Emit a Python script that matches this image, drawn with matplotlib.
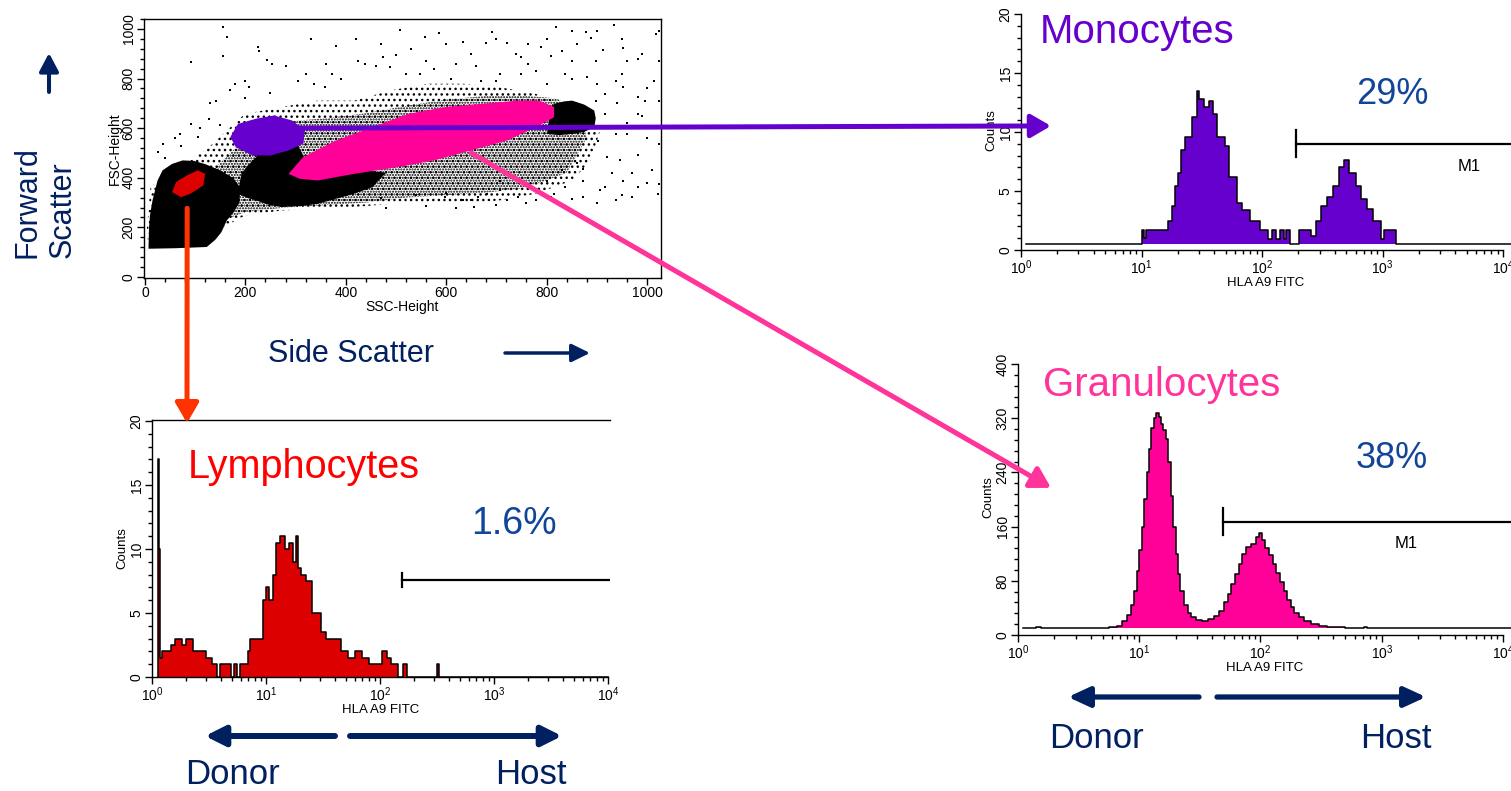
import numpy as np
import matplotlib
matplotlib.use("Agg")
from matplotlib import pyplot as plt
from matplotlib.patches import Polygon, FancyArrowPatch, ConnectionPatch
from matplotlib.ticker import MultipleLocator, LogLocator, NullFormatter

plt.rcParams['font.family'] = ['Liberation Sans', 'DejaVu Sans']
plt.rcParams['hatch.linewidth'] = 1.0
plt.rcParams['axes.linewidth'] = 1.0

# Colours
NAVY = '#002060'
PCT_BLUE = '#10459A'
LYMPH_RED = '#DD0000'
MONO_PURPLE = '#6600CC'
GRAN_PINK = '#FF0099'
GRAN_TEXT = '#FF3399'
ORANGE = '#FF3300'

# ---------------- Scatter plot data (SSC, FSC) ----------------
# Outer, sparse part of the event cloud
band_ssc = [7, 120, 156, 199, 272, 344, 417, 489, 562, 634, 707, 779, 851, 888, 909,
            851, 779, 707, 634, 562, 489, 417, 344, 272, 236, 199, 163, 127, 91, 40, 11, 4]
band_fsc = [114, 121, 201, 248, 268, 275, 282, 295, 302, 295, 309, 336, 389, 470, 604,
            684, 738, 765, 779, 779, 752, 711, 711, 685, 671, 658, 590, 523, 470, 416, 362, 201]
# Inner, denser part of the event cloud
inner_ssc = [120, 200, 280, 360, 440, 520, 600, 680, 760, 840, 880, 870, 820, 760, 680,
             600, 520, 440, 360, 300, 240, 180, 130]
inner_fsc = [200, 262, 280, 290, 300, 320, 330, 340, 360, 420, 560, 660, 720, 730, 730,
             715, 690, 660, 640, 630, 600, 520, 420]
# Dense black core (small cells / debris)
core_ssc = [7, 60, 123, 140, 152, 163, 178, 188, 190, 175, 150, 120, 98, 75, 54, 35, 25, 15, 10, 8]
core_fsc = [114, 116, 121, 150, 180, 228, 265, 300, 360, 400, 430, 455, 468, 470, 456, 430, 389, 309, 250, 201]
# Dense black area between monocytes and granulocytes
mid_ssc = [185, 205, 221, 245, 272, 310, 344, 380, 417, 453, 480, 400, 320, 305, 301, 280, 257, 235, 221, 205, 192]
mid_fsc = [336, 318, 309, 292, 282, 286, 295, 315, 336, 362, 420, 440, 470, 530, 577, 575, 560, 520, 483, 450, 416]
# Dense black area right of granulocytes
right_ssc = [801, 805, 815, 835, 851, 875, 895, 898, 895, 875, 851, 825]
right_fsc = [577, 640, 698, 708, 711, 695, 671, 640, 604, 585, 577, 572]
# Gated populations
mono_gate_ssc = [170, 185, 221, 257, 293, 319, 315, 286, 250, 214, 181]
mono_gate_fsc = [564, 617, 638, 651, 631, 591, 537, 510, 490, 490, 523]
gran_gate_ssc = [286, 315, 380, 453, 525, 598, 670, 743, 786, 815, 815, 779, 721, 649, 576, 504, 417, 344, 308]
gran_gate_fsc = [416, 483, 550, 604, 658, 685, 698, 711, 711, 684, 644, 604, 550, 510, 470, 443, 416, 389, 396]
lymph_gate_ssc = [54, 62, 83, 105, 120, 116, 91, 72]
lymph_gate_fsc = [342, 383, 409, 430, 416, 369, 336, 322]
# Sparse events
ssc_dots = [156, 164, 509, 558, 585, 692, 819, 935, 851, 878, 634, 679, 721, 763, 788, 830,
            888, 912, 953, 1018, 225, 228, 243, 254, 91, 156, 424, 438, 474, 500, 460, 489,
            750, 764, 808, 851, 898, 960, 982, 779, 837, 880, 938, 982, 996, 953, 917, 898,
            888, 917, 938, 982, 946, 1011, 906, 917, 873, 815, 837, 830, 873, 971, 938, 982,
            707, 743, 663, 681, 634, 598, 656, 721, 779, 808, 851, 1022, 1025, 1025, 1025,
            1025, 1025, 1014, 707, 670, 620, 576, 547, 373, 359, 337, 304, 199, 207, 170,
            141, 127, 91, 69, 36, 25, 72, 105, 149, 960, 982, 902, 920, 953, 873, 801, 764,
            707, 600, 540, 470, 930, 990, 860, 760, 650,
            330, 380, 420, 470, 530, 600, 650, 700, 740, 800, 860, 900, 950, 990, 280, 320,
            360, 390, 520, 560, 610, 660, 700, 750, 800, 850, 900, 950, 1000, 990, 960, 940,
            1000, 970, 1000, 950, 900, 700, 620, 560, 480, 60, 40, 110, 130, 200, 250, 180]
fsc_dots = [1009, 969, 996, 969, 983, 987, 1009, 1016, 991, 987, 949, 942, 942, 940, 926, 913,
            962, 915, 922, 980, 926, 909, 875, 859, 866, 889, 872, 859, 886, 893, 852, 846,
            886, 859, 889, 872, 872, 872, 879, 832, 819, 805, 792, 725, 711, 765, 738, 711,
            671, 658, 577, 490, 470, 430, 349, 362, 322, 336, 362, 430, 436, 322, 309, 362,
            349, 322, 322, 336, 309, 322, 282, 309, 309, 322, 315, 336, 376, 537, 711,
            872, 993, 792, 819, 792, 859, 839, 819, 819, 765, 779, 792, 792, 765, 752,
            711, 638, 617, 577, 537, 503, 530, 564, 611, 577, 658, 550, 483, 389, 389, 389, 362,
            389, 340, 330, 320, 420, 600, 460, 300, 310,
            960, 930, 960, 940, 920, 940, 900, 960, 900, 960, 940, 990, 960, 900, 850, 820,
            860, 800, 820, 870, 800, 850, 790, 820, 780, 800, 780, 820, 760, 650, 620, 700,
            560, 420, 380, 330, 300, 290, 280, 285, 280, 560, 480, 600, 700, 720, 740, 780]

# ---------------- Histogram data (log10 channel edges, counts) ----------------
lymph_edges = [0.05, 0.058, 0.067, 0.09, 0.17, 0.2, 0.26, 0.3, 0.36, 0.47,
               0.53, 0.57, 0.6, 0.69, 0.72, 0.75, 0.77, 0.84, 0.86, 0.9,
               0.97, 1.0, 1.03, 1.06, 1.09, 1.12, 1.17, 1.2, 1.24, 1.26,
               1.28, 1.31, 1.35, 1.4, 1.44, 1.48, 1.53, 1.6, 1.66, 1.72,
               1.78, 1.84, 1.9, 1.98, 2.02, 2.06, 2.1, 2.16, 2.2, 2.24,
               2.5, 2.52, 4.0]
lymph_counts = [17, 10, 1.5, 2, 2.5, 3, 2.5, 3, 2, 1.5,
                1, 0, 1, 0, 1, 0, 1, 2, 3, 3,
                6, 7, 6, 8, 10.5, 11, 10, 10.5, 9, 11,
                8.5, 8, 7.5, 5, 5, 3.5, 3, 3, 2, 1.5,
                2, 1.5, 1, 1, 2, 1.5, 1, 0, 1, 0,
                1, 0]

mono_edges = [0.04, 1.0, 1.02, 1.04, 1.07, 1.22, 1.25, 1.28, 1.3, 1.33,
              1.36, 1.42, 1.46, 1.48, 1.52, 1.56, 1.59, 1.63, 1.69, 1.73,
              1.79, 1.83, 1.9, 1.98, 2.05, 2.08, 2.12, 2.15, 2.18, 2.2,
              2.23, 2.31, 2.41, 2.45, 2.49, 2.54, 2.59, 2.64, 2.68, 2.72,
              2.78, 2.82, 2.87, 2.92, 2.99, 3.01, 3.05, 3.11, 4.07]
mono_counts = [0, 1.7, 1.0, 1.7, 1.7, 2.5, 3.7, 5.4, 6.5, 8.5,
               9.6, 11.3, 13.5, 12.8, 12.1, 12.6, 11.5, 9.6, 8.8, 6.2,
               4.0, 3.4, 2.5, 1.7, 0.9, 1.7, 0.9, 1.7, 0.9, 1.7,
               0, 1.7, 1.2, 2.5, 3.7, 4.5, 5.4, 7.0, 7.6, 6.5,
               5.4, 4.3, 3.5, 2.5, 0.9, 1.7, 1.7, 0]

gran_edges = [0.04, 0.15, 0.19, 0.75, 0.82, 0.86, 0.9, 0.93, 0.955, 0.98,
              1.0, 1.02, 1.04, 1.06, 1.08, 1.1, 1.12, 1.14, 1.16, 1.18,
              1.2, 1.22, 1.24, 1.26, 1.28, 1.3, 1.32, 1.34, 1.37, 1.4,
              1.43, 1.47, 1.52, 1.57, 1.62, 1.66, 1.7, 1.73, 1.76, 1.79,
              1.82, 1.85, 1.88, 1.92, 1.96, 1.99, 2.01, 2.04, 2.07, 2.1,
              2.13, 2.16, 2.19, 2.22, 2.25, 2.28, 2.32, 2.36, 2.42, 2.48,
              2.55, 2.7, 2.85, 2.88, 4.07]
gran_counts = [10, 12, 10, 12, 14, 20, 30, 45, 65, 95,
               125, 160, 200, 240, 275, 305, 320, 328, 322, 312,
               302, 290, 255, 205, 160, 120, 90, 65, 45, 33,
               26, 22, 20, 24, 28, 36, 48, 60, 75, 90,
               105, 120, 130, 135, 145, 150, 140, 128, 118, 105,
               92, 78, 65, 52, 42, 33, 26, 20, 16, 13,
               12, 10, 12, 10]

# M1 gates: (start channel log10, level, half tick height)
lymph_m1 = (2.19, 7.6, 0.55)
mono_m1 = (2.28, 9.0, 1.15)
gran_m1 = (1.69, 167, 20)

W, H = 1511, 791


def fx(x):
    return x / W


def fy(y):
    return 1 - y / H


fig = plt.figure(figsize=(W / 100, H / 100), dpi=100)
fig.patch.set_facecolor('white')

# ---------------- Scatter ----------------
ax_sc = fig.add_axes([fx(144), fy(278), 517 / W, 259 / H])
ax_sc.add_patch(Polygon(list(zip(band_ssc, band_fsc)), closed=True, facecolor='none',
                        edgecolor='black', hatch='...', lw=0, zorder=1))
ax_sc.add_patch(Polygon(list(zip(inner_ssc, inner_fsc)), closed=True, facecolor='none',
                        edgecolor='black', hatch='......', lw=0, zorder=1))
ax_sc.scatter(ssc_dots, fsc_dots, s=2.5, marker='s', color='black', lw=0, zorder=2)
for xs, ys in [(core_ssc, core_fsc), (mid_ssc, mid_fsc), (right_ssc, right_fsc)]:
    ax_sc.add_patch(Polygon(list(zip(xs, ys)), closed=True, facecolor='black', lw=0, zorder=3))
ax_sc.add_patch(Polygon(list(zip(mono_gate_ssc, mono_gate_fsc)), closed=True,
                        facecolor=MONO_PURPLE, lw=0, zorder=4))
ax_sc.add_patch(Polygon(list(zip(gran_gate_ssc, gran_gate_fsc)), closed=True,
                        facecolor=GRAN_PINK, lw=0, zorder=4))
ax_sc.add_patch(Polygon(list(zip(lymph_gate_ssc, lymph_gate_fsc)), closed=True,
                        facecolor=LYMPH_RED, lw=0, zorder=4))
ax_sc.set_xlim(-2, 1028)
ax_sc.set_ylim(-4, 1040)
ax_sc.xaxis.set_major_locator(MultipleLocator(200))
ax_sc.xaxis.set_minor_locator(MultipleLocator(40))
ax_sc.yaxis.set_major_locator(MultipleLocator(200))
ax_sc.yaxis.set_minor_locator(MultipleLocator(40))
ax_sc.tick_params(which='both', direction='out', width=1, labelsize=10, pad=1)
ax_sc.tick_params(which='major', length=5)
ax_sc.tick_params(which='minor', length=3)
for lab in ax_sc.get_yticklabels():
    lab.set_rotation(90)
    lab.set_va('center')
ax_sc.set_xlabel('SSC-Height', fontsize=10, labelpad=0)
ax_sc.set_ylabel('FSC-Height', fontsize=10, labelpad=0)


# ---------------- Histograms ----------------
def draw_hist(ax, edges, counts, color, floor):
    x = 10 ** np.asarray(edges, dtype=float)
    y = np.maximum(np.append(counts, counts[-1]), floor)
    ax.fill_between(x, floor, y, step='post', color=color, lw=0, zorder=2)
    ax.step(np.r_[x[0], x], np.r_[floor, y], where='post', color='black', lw=1.1, zorder=3)


def style_hist(ax, ymax, ymajor, yminor):
    ax.set_xscale('log')
    ax.set_xlim(1, ax.get_xlim()[1])
    ax.set_ylim(0, ymax)
    ax.xaxis.set_major_locator(LogLocator(base=10, numticks=10))
    ax.xaxis.set_minor_locator(LogLocator(base=10, subs=np.arange(2, 10), numticks=20))
    ax.xaxis.set_minor_formatter(NullFormatter())
    ax.yaxis.set_major_locator(MultipleLocator(ymajor))
    ax.yaxis.set_minor_locator(MultipleLocator(yminor))
    ax.tick_params(which='both', direction='out', width=1, labelsize=10, pad=1)
    ax.tick_params(which='major', length=5)
    ax.tick_params(which='minor', length=3)
    for lab in ax.get_yticklabels():
        lab.set_rotation(90)
        lab.set_va('center')
    ax.spines['right'].set_visible(False)
    ax.spines['bottom'].set_bounds(1, 1e4)
    ax.set_xlabel('HLA A9 FITC', fontsize=9.5, labelpad=0)
    ax.set_ylabel('Counts', fontsize=9.5, labelpad=1)
    ax.set_facecolor('none')


def draw_m1(ax, gate, label_pos=None):
    start, level, half = gate
    ax.plot([10 ** start, 1e5], [level, level], color='black', lw=1.6, zorder=4, clip_on=True)
    ax.plot([10 ** start] * 2, [level - half, level + half], color='black', lw=1.6, zorder=4)
    if label_pos is not None:
        ax.text(10 ** label_pos[0], label_pos[1], 'M1', fontsize=12, ha='center', va='center')


# Lymphocytes
ax_ly = fig.add_axes([fx(152), fy(677), 458 / W, 257 / H])
ax_ly.set_xlim(1, 10 ** 4.018)
draw_hist(ax_ly, lymph_edges, lymph_counts, LYMPH_RED, 0)
style_hist(ax_ly, 20.08, 5, 1)
draw_m1(ax_ly, lymph_m1)

# Monocytes
ax_mo = fig.add_axes([fx(1021), fy(250), 490 / W, 240 / H])
ax_mo.set_xlim(1, 10 ** 4.066)
draw_hist(ax_mo, mono_edges, mono_counts, MONO_PURPLE, 0.5)
style_hist(ax_mo, 20.34, 5, 1)
ax_mo.spines['top'].set_visible(False)
ax_mo.spines['left'].set_bounds(0, 20)
draw_m1(ax_mo, mono_m1, (3.72, 7.1))

# Granulocytes
ax_gr = fig.add_axes([fx(1018), fy(635), 493 / W, 275 / H])
ax_gr.set_xlim(1, 10 ** 4.066)
draw_hist(ax_gr, gran_edges, gran_counts, GRAN_PINK, 10)
style_hist(ax_gr, 405.9, 80, 16)
ax_gr.spines['top'].set_visible(False)
ax_gr.spines['left'].set_bounds(0, 400)
draw_m1(ax_gr, gran_m1, (3.2, 135))

# ---------------- Texts ----------------
fig.text(fx(188), fy(467), 'Lymphocytes', color='#FF0000', fontsize=28.5, ha='left', va='center')
fig.text(fx(514), fy(524), '1.6%', color=PCT_BLUE, fontsize=27, ha='center', va='center')
fig.text(fx(1040), fy(32), 'Monocytes', color=MONO_PURPLE, fontsize=29, ha='left', va='center')
fig.text(fx(1392), fy(95), '29%', color=PCT_BLUE, fontsize=26, ha='center', va='center')
fig.text(fx(1043), fy(385), 'Granulocytes', color=GRAN_TEXT, fontsize=29, ha='left', va='center')
fig.text(fx(1392), fy(458), '38%', color=PCT_BLUE, fontsize=26, ha='center', va='center')
fig.text(fx(268), fy(354), 'Side Scatter', color=NAVY, fontsize=22, ha='left', va='center')
fig.text(fx(45), fy(258), 'Forward\nScatter', color=NAVY, fontsize=22, rotation=90,
         ha='center', va='bottom', multialignment='left', linespacing=1.2)
fig.text(fx(185), fy(775), 'Donor', color=NAVY, fontsize=25, ha='left', va='center')
fig.text(fx(567), fy(775), 'Host', color=NAVY, fontsize=25, ha='right', va='center')
fig.text(fx(1049), fy(738), 'Donor', color=NAVY, fontsize=25, ha='left', va='center')
fig.text(fx(1432), fy(738), 'Host', color=NAVY, fontsize=25, ha='right', va='center')


# ---------------- Arrows ----------------
def fig_arrow(p0, p1, color, lw, hl, hw):
    fig.add_artist(FancyArrowPatch((fx(p0[0]), fy(p0[1])), (fx(p1[0]), fy(p1[1])),
                                   transform=fig.transFigure, color=color, lw=lw,
                                   arrowstyle=f'-|>,head_length={hl},head_width={hw}',
                                   mutation_scale=1, shrinkA=0, shrinkB=0, zorder=10))


fig_arrow((49, 92), (49, 53), NAVY, 2.9, 11, 5.8)
fig_arrow((505, 353), (590, 353), NAVY, 2.5, 11, 5.4)
fig_arrow((335, 736), (205, 736), NAVY, 4.3, 12, 6)
fig_arrow((350, 736), (562, 736), NAVY, 4.3, 12, 6)
fig_arrow((1199, 697), (1068, 697), NAVY, 3.8, 13, 6)
fig_arrow((1217, 697), (1426, 697), NAVY, 3.8, 13, 6)


def connect(xy_scatter, ax_to, xy_frac, color):
    con = ConnectionPatch(xyA=xy_scatter, coordsA=ax_sc.transData,
                          xyB=xy_frac, coordsB=ax_to.transAxes,
                          arrowstyle='-|>,head_length=12,head_width=7', mutation_scale=1,
                          color=color, lw=3.6, shrinkA=0, shrinkB=0, zorder=10)
    fig.add_artist(con)


connect((300, 600), ax_mo, (0.061, 0.517), MONO_PURPLE)
connect((650, 500), ax_gr, (0.067, 0.535), GRAN_TEXT)
connect((84, 277), ax_ly, (0.0764, 0.988), ORANGE)

fig.savefig('out.png', dpi=100)
